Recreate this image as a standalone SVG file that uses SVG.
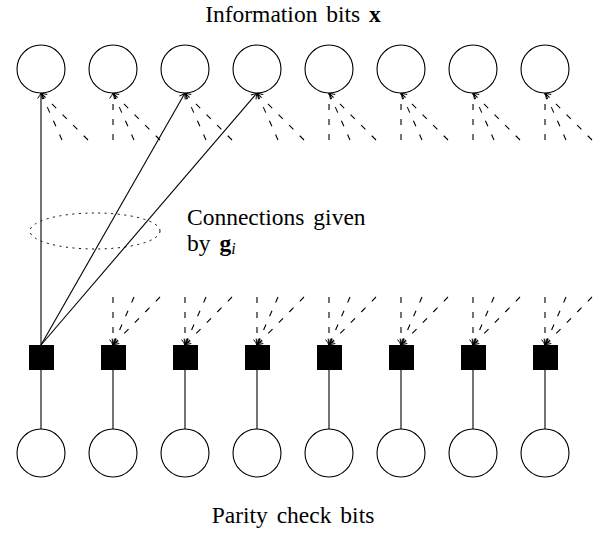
<svg xmlns="http://www.w3.org/2000/svg" width="600" height="535" viewBox="0 0 600 535">
<style>
.bit{fill:#fff;stroke:#000;stroke-width:1.1}
.chk{fill:#000;stroke:none}
.sol{stroke:#000;stroke-width:1.1;fill:none}
.dsh{stroke:#000;stroke-width:1.1;fill:none;stroke-dasharray:6,9}
.lbl{font-family:"Liberation Serif","Times New Roman",serif;font-size:23.5px;word-spacing:3px;fill:#000}
</style>
<defs>
<marker id="arr" markerUnits="userSpaceOnUse" markerWidth="12" markerHeight="12" viewBox="-8 -6 10 12" refX="0" refY="0" orient="auto">
<path d="M-5.5,-3.4 Q-2,-0.8 0,0 Q-2,0.8 -5.5,3.4" fill="none" stroke="#000" stroke-width="1" stroke-dasharray="none"/>
</marker>
</defs>
<rect width="600" height="535" fill="#fff"/>
<text class="lbl" x="293" y="22" text-anchor="middle">Information bits <tspan font-weight="bold">x</tspan></text>
<text class="lbl" x="187" y="225" font-size="23">Connections given</text>
<text class="lbl" x="187" y="251" font-size="23">by <tspan font-weight="bold">g</tspan><tspan font-style="italic" font-size="16" dy="3">i</tspan></text>
<text class="lbl" x="293" y="523" text-anchor="middle">Parity check bits</text>
<g id="connectors">
<line class="sol" x1="41" y1="345" x2="41" y2="93" marker-end="url(#arr)"/>
<line class="sol" x1="41" y1="345" x2="185" y2="93" marker-end="url(#arr)"/>
<line class="sol" x1="41" y1="345" x2="257" y2="93" marker-end="url(#arr)"/>
<ellipse cx="95" cy="231" rx="65" ry="18" fill="none" stroke="#000" stroke-width="1" stroke-dasharray="2,4.5"/>
<g id="top-dashed">
<path class="dsh" d="M62,140L41,93M88,140L41,93" marker-end="url(#arr)"/>
<path class="dsh" d="M113,140L113,93" marker-end="url(#arr)"/>
<path class="dsh" d="M134,140L113,93M160,140L113,93" marker-end="url(#arr)"/>
<path class="dsh" d="M206,140L185,93M232,140L185,93" marker-end="url(#arr)"/>
<path class="dsh" d="M278,140L257,93M304,140L257,93" marker-end="url(#arr)"/>
<path class="dsh" d="M329,140L329,93M350,140L329,93M376,140L329,93" marker-end="url(#arr)"/>
<path class="dsh" d="M401,140L401,93M422,140L401,93M448,140L401,93" marker-end="url(#arr)"/>
<path class="dsh" d="M473,140L473,93M494,140L473,93M520,140L473,93" marker-end="url(#arr)"/>
<path class="dsh" d="M545,140L545,93M566,140L545,93M592,140L545,93" marker-end="url(#arr)"/>
</g>
<g id="bottom-dashed">
<path class="dsh" d="M113,297L113,345" marker-end="url(#arr)"/>
<path class="dsh" d="M134,297L113,345" marker-end="url(#arr)"/>
<path class="dsh" d="M160,297L113,345" marker-end="url(#arr)"/>
<path class="dsh" d="M185,297L185,345" marker-end="url(#arr)"/>
<path class="dsh" d="M206,297L185,345" marker-end="url(#arr)"/>
<path class="dsh" d="M232,297L185,345" marker-end="url(#arr)"/>
<path class="dsh" d="M257,297L257,345" marker-end="url(#arr)"/>
<path class="dsh" d="M278,297L257,345" marker-end="url(#arr)"/>
<path class="dsh" d="M304,297L257,345" marker-end="url(#arr)"/>
<path class="dsh" d="M329,297L329,345" marker-end="url(#arr)"/>
<path class="dsh" d="M350,297L329,345" marker-end="url(#arr)"/>
<path class="dsh" d="M376,297L329,345" marker-end="url(#arr)"/>
<path class="dsh" d="M401,297L401,345" marker-end="url(#arr)"/>
<path class="dsh" d="M422,297L401,345" marker-end="url(#arr)"/>
<path class="dsh" d="M448,297L401,345" marker-end="url(#arr)"/>
<path class="dsh" d="M473,297L473,345" marker-end="url(#arr)"/>
<path class="dsh" d="M494,297L473,345" marker-end="url(#arr)"/>
<path class="dsh" d="M520,297L473,345" marker-end="url(#arr)"/>
<path class="dsh" d="M545,297L545,345" marker-end="url(#arr)"/>
<path class="dsh" d="M566,297L545,345" marker-end="url(#arr)"/>
<path class="dsh" d="M592,297L545,345" marker-end="url(#arr)"/>
</g>
<g id="check-to-parity">
<line class="sol" x1="41" y1="370" x2="41" y2="429"/>
<line class="sol" x1="113" y1="370" x2="113" y2="429"/>
<line class="sol" x1="185" y1="370" x2="185" y2="429"/>
<line class="sol" x1="257" y1="370" x2="257" y2="429"/>
<line class="sol" x1="329" y1="370" x2="329" y2="429"/>
<line class="sol" x1="401" y1="370" x2="401" y2="429"/>
<line class="sol" x1="473" y1="370" x2="473" y2="429"/>
<line class="sol" x1="545" y1="370" x2="545" y2="429"/>
</g>
</g>
<g id="x1"><circle class="bit" cx="41" cy="69" r="24"/></g>
<g id="x2"><circle class="bit" cx="113" cy="69" r="24"/></g>
<g id="x3"><circle class="bit" cx="185" cy="69" r="24"/></g>
<g id="x4"><circle class="bit" cx="257" cy="69" r="24"/></g>
<g id="x5"><circle class="bit" cx="329" cy="69" r="24"/></g>
<g id="x6"><circle class="bit" cx="401" cy="69" r="24"/></g>
<g id="x7"><circle class="bit" cx="473" cy="69" r="24"/></g>
<g id="x8"><circle class="bit" cx="545" cy="69" r="24"/></g>
<g id="c1"><rect class="chk" x="29" y="345" width="25" height="25"/></g>
<g id="c2"><rect class="chk" x="101" y="345" width="25" height="25"/></g>
<g id="c3"><rect class="chk" x="173" y="345" width="25" height="25"/></g>
<g id="c4"><rect class="chk" x="245" y="345" width="25" height="25"/></g>
<g id="c5"><rect class="chk" x="317" y="345" width="25" height="25"/></g>
<g id="c6"><rect class="chk" x="389" y="345" width="25" height="25"/></g>
<g id="c7"><rect class="chk" x="461" y="345" width="25" height="25"/></g>
<g id="c8"><rect class="chk" x="533" y="345" width="25" height="25"/></g>
<g id="p1"><circle class="bit" cx="41" cy="453" r="24"/></g>
<g id="p2"><circle class="bit" cx="113" cy="453" r="24"/></g>
<g id="p3"><circle class="bit" cx="185" cy="453" r="24"/></g>
<g id="p4"><circle class="bit" cx="257" cy="453" r="24"/></g>
<g id="p5"><circle class="bit" cx="329" cy="453" r="24"/></g>
<g id="p6"><circle class="bit" cx="401" cy="453" r="24"/></g>
<g id="p7"><circle class="bit" cx="473" cy="453" r="24"/></g>
<g id="p8"><circle class="bit" cx="545" cy="453" r="24"/></g>
</svg>
